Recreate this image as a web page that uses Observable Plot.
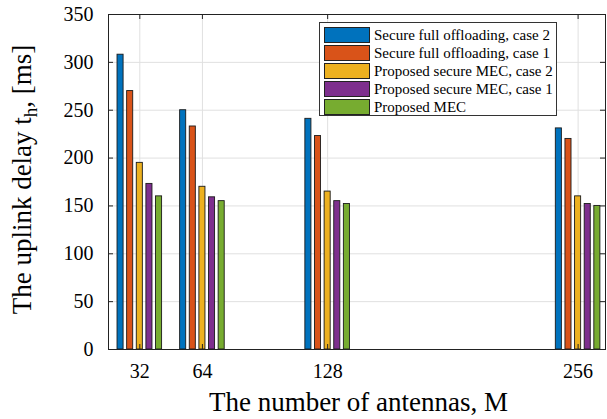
<!DOCTYPE html>
<html><head><meta charset="utf-8">
<script src="https://cdn.jsdelivr.net/npm/d3@7"></script>
<script src="https://cdn.jsdelivr.net/npm/@observablehq/plot@0.6"></script>
<style>
body{margin:0;background:#fff;}
#wrap{position:relative;width:607px;height:419px;font-family:"Liberation Serif","Times New Roman",serif;}
#legend{position:absolute;left:319px;top:22px;width:238px;height:94px;border:1px solid #333;background:#fff;box-sizing:border-box;}
.row{position:absolute;left:4px;height:16px;display:flex;align-items:center;}
.sw{width:46px;height:16px;border:1px solid #222;box-sizing:border-box;margin-right:4px;flex:none;}
.lab{font-size:15px;line-height:16px;color:#000;white-space:nowrap;}
</style></head><body><div id="wrap"><div id="legend"></div></div>
<script>
// ---- data ----
const antennas = [32, 64, 128, 256];
const seriesNames = [
  "Secure full offloading, case 2",
  "Secure full offloading, case 1",
  "Proposed secure MEC, case 2",
  "Proposed secure MEC, case 1",
  "Proposed MEC"
];
const fullCase2 = [308, 250, 241, 231];
const fullCase1 = [270, 233, 223, 220];
const secureCase2 = [195, 170, 165, 160];
const secureCase1 = [173, 159, 155, 152];
const proposedMEC = [160, 155, 152, 150];
const colors = ["#0072BD", "#D95319", "#EDB120", "#7E2F8E", "#77AC30"];
const xTicks = [32, 64, 128, 256];
const yTicks = [0, 50, 100, 150, 200, 250, 300, 350];
const xLabel = "The number of antennas, M";

// ---- build table ----
const seriesValues = [fullCase2, fullCase1, secureCase2, secureCase1, proposedMEC];
const pitch = 4.92, barW = 3.1;
const rows = [];
seriesValues.forEach((vals, s) => {
  antennas.forEach((m, i) => {
    const c = m + (s - 2) * pitch;
    rows.push({series: seriesNames[s], s, m, x1: c - barW / 2, x2: c + barW / 2, y: vals[i]});
  });
});

const W = 607, H = 419, mL = 108, mR = 2, mT = 14, mB = 70;
const pw = W - mL - mR, ph = H - mT - mB, tk = 5;
const font = '"Liberation Serif","Times New Roman",serif';

const chart = Plot.plot({
  width: W, height: H,
  marginLeft: mL, marginRight: mR, marginTop: mT, marginBottom: mB,
  style: {fontFamily: font, background: "white", color: "black"},
  x: {type: "linear", domain: [16, 270]},
  y: {domain: [0, 350]},
  color: {domain: seriesNames, range: colors},
  marks: [
    Plot.gridX(xTicks, {stroke: "#e0e0e0", strokeOpacity: 1}),
    Plot.gridY(yTicks, {stroke: "#e0e0e0", strokeOpacity: 1}),
    Plot.rectY(rows, {x1: "x1", x2: "x2", y: "y", fill: "series", stroke: "#1a1a1a", strokeWidth: 0.9}),
    Plot.frame({stroke: "#222"}),
    Plot.tickX(xTicks, {x: d => d, insetTop: ph - tk, stroke: "#222"}),
    Plot.tickX(xTicks, {x: d => d, insetBottom: ph - tk, stroke: "#222"}),
    Plot.tickY(yTicks, {y: d => d, insetRight: pw - tk, stroke: "#222"}),
    Plot.tickY(yTicks, {y: d => d, insetLeft: pw - tk, stroke: "#222"}),
    Plot.axisX(xTicks, {tickSize: 0, tickPadding: 14, fontSize: 20, label: null}),
    Plot.axisY(yTicks, {tickSize: 0, tickPadding: 15, fontSize: 20, label: null})
  ]
});

const svg = d3.select(chart);
svg.append("text")
  .attr("x", mL + pw / 2 + 2).attr("y", 411)
  .attr("text-anchor", "middle")
  .attr("font-family", font).attr("font-size", 27).attr("fill", "black")
  .text(xLabel);

const yl = svg.append("text")
  .attr("transform", `translate(31,${mT + ph / 2 - 2}) rotate(-90)`)
  .attr("text-anchor", "middle")
  .attr("font-family", font).attr("font-size", 27).attr("fill", "black");
yl.append("tspan").text("The uplink delay t");
yl.append("tspan").attr("font-size", 19).attr("dy", 6).text("h");
yl.append("tspan").attr("dy", -6).text(", [ms]");

document.getElementById("wrap").prepend(chart);

const leg = document.getElementById("legend");
seriesNames.forEach((n, i) => {
  const r = document.createElement("div");
  r.className = "row";
  r.style.top = (4 + i * 18) + "px";
  const sw = document.createElement("div");
  sw.className = "sw"; sw.style.background = colors[i];
  const lb = document.createElement("span");
  lb.className = "lab"; lb.textContent = n;
  r.appendChild(sw); r.appendChild(lb);
  leg.appendChild(r);
});
</script>
</body></html>
